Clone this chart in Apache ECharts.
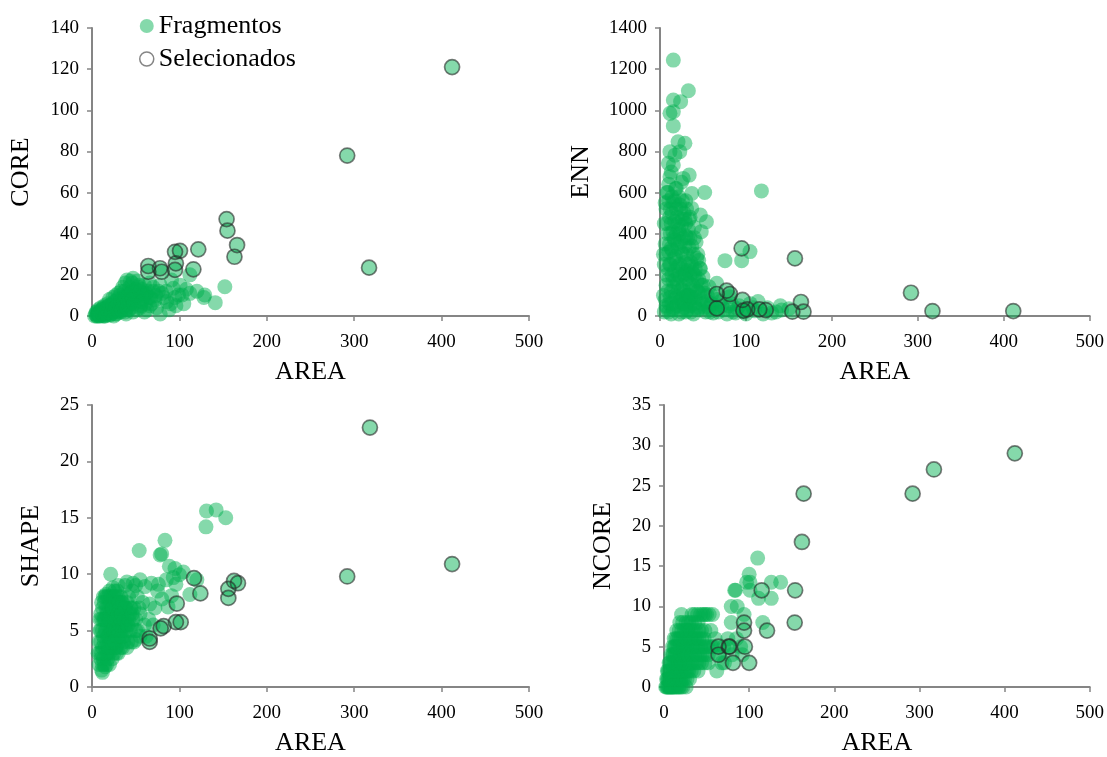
<!DOCTYPE html>
<html>
<head>
<meta charset="utf-8">
<script src="https://cdn.jsdelivr.net/npm/echarts@6/dist/echarts.min.js"></script>
<style>
  html, body { margin: 0; padding: 0; background: #fff; }
  #main { width: 1107px; height: 757px; }
</style>
</head>
<body>
<div id="main"></div>
<script>
// pontos [AREA, valor]
const xTicks = [0, 100, 200, 300, 400, 500]

// CORE x AREA
const coreFrag = [
  [5,0],[6,0.5],[7,1],[8,0],[9,2],[10,1],[11,0.5],[12,3],[13,1.5],[14,0],[15,2.5],[16,4],[17,1],[18,3],[19,5],[20,2],
  [21,0.5],[22,4],[23,6],[24,2],[25,3.5],[26,7],[27,1],[28,5],[29,8],[30,3],[31,6],[32,10],[33,2],[34,7],[35,4],[36,9],
  [37,12],[38,5],[39,1],[40,8],[41,11],[42,3],[43,14],[44,6],[45,9],[46,16],[47,2],[48,12],[50,7],[52,17],[53,10],[55,4],
  [57,13],[58,8],[60,15],[62,11],[63,3],[65,9],[68,6],[12,0],[8,1.5],[6,2],[10,4],[14,5],[18,6],[20,8],[24,9],[27,10],
  [30,11],[33,12],[35,14],[38,16],[44,17],[50,13],[54,15],[56,5],[60,2],[66,5],[70,12],[74,4],[85,12],[88,3],[95,9],
  [105,6],[108,13],[120,12],[152,14.2],[129,10.2],[141,6.5],[112,20],[99,10.2],[103,10.2],[78,1],[85.5,7],[80,11],
  [93,13.5],[91,17.5],[112,11],[100.7,15],[78,15],[66,16],[47,18.3],[40,17.5],[58,11],[72,7.8],[128,9],
  [3,0],[4,1],[5,2],[6,0],[7,3],[8,1],[9,0],[10,2],[11,3],[12,1],[13,4],[14,2],[15,0],[16,1],[17,3],[18,0.5],[19,2],
  [20,5],[21,3],[22,1],[23,2],[24,5],[25,0],[26,2],[27,4],[28,1],[29,3],[30,6],[31,2],[32,5],[33,7],[34,3],[35,9],
  [36,5],[37,7],[38,2],[39,9],[40,4],[41,6],[42,10],[43,8],[44,11],[45,4],[46,12],[47,8],[48,6],[50,10],[51,3],
  [53,14],[55,12],[57,7],[59,10],[61,6],[64,12],[67,9],[70,14],[73,10],[76,12],[82,9],[90,6],[96,5]
]
const coreSel = [
  [64.4,24.3],[64.4,21.5],[77.8,23.2],[79.7,21.5],[95,31.2],[100.7,31.7],[96,25.6],[95,22.4],[116,22.7],[121.6,32.4],
  [154,47.1],[155,41.5],[166,34.5],[163,28.8],[292,78],[317,23.5],[412,121]
]

// ENN x AREA
const ennFrag = [
  [5,20],[6,80],[7,150],[8,40],[9,230],[10,310],[11,60],[12,400],[13,120],[14,500],[15,30],[16,280],[17,560],[18,180],
  [19,90],[20,350],[21,450],[22,10],[23,250],[24,520],[25,130],[26,60],[27,380],[28,200],[29,470],[30,20],[31,300],
  [32,100],[33,420],[34,160],[35,50],[36,260],[37,340],[38,90],[39,10],[40,200],[42,130],[44,30],[45,270],[48,80],
  [50,150],[52,40],[55,100],[58,20],[60,60],[6,350],[7,520],[8,450],[9,600],[10,560],[11,480],[12,250],[13,330],
  [14,200],[15,410],[16,140],[17,370],[18,290],[19,520],[20,160],[21,240],[22,580],[23,400],[24,80],[25,310],[26,470],
  [27,150],[28,40],[29,260],[30,390],[31,180],[32,220],[33,70],[34,330],[35,130],[36,20],[38,210],[41,90],[43,170],
  [46,110],[65,40],[70,70],[75,30],[80,50],[85,20],[90,35],[105,60],[110,25],[130,15],[140,50],[100,10],
  [15.5,1244],[33,1095],[15.5,1050],[24,1042],[11.6,985],[15.5,993],[15.5,924],[21,847],[29,840],[11.6,799],[23,799],
  [17.4,782],[9.7,742],[15.5,734],[11.6,677],[34,685],[27,669],[52,600],[118,608],[37,596],[47,491],[54,458],[48,410],
  [37,523],[75.6,269],[95,269],[104.7,313],[46.5,232],[50,191],[57,142],[66,159],[114,70],[141.5,29],[81,94],
  [10,640],[13,700],[19,620],[25,650],[14,580],[30,560],[40,430],[42,360],[44,300],[35,480],
  [4,100],[4,300],[5,450],[5,250],[6,550],[7,50],[7,300],[8,200],[8,600],[9,120],[9,400],[10,20],[10,180],[11,350],
  [11,250],[12,90],[12,520],[13,10],[13,450],[14,320],[14,60],[15,170],[15,550],[16,40],[16,380],[17,220],[17,460],
  [18,100],[18,620],[19,260],[19,400],[20,50],[20,480],[21,120],[21,330],[22,200],[22,420],[23,70],[23,540],[24,190],
  [24,360],[25,20],[25,440],[26,230],[26,560],[27,90],[27,300],[28,120],[28,500],[29,60],[29,340],[30,210],[30,450],
  [31,100],[31,520],[32,30],[32,380],[33,250],[34,100],[34,470],[35,200],[35,380],[36,90],[37,240],[38,150],[39,300],
  [40,60],[40,380],[41,230],[42,40],[43,280],[44,120],[45,180],[46,40],[47,230],[48,150],[50,60],[52,110],[53,20],
  [55,70],[57,40],[60,100],[62,15],[66,80],[68,20],[72,50],[78,10],[83,60],[88,15],[92,50],[98,20],[108,40],[120,10],
  [125,40],[135,20],[150,35]
]
const ennSel = [
  [95,329],[157,280],[66,107],[77.5,123],[81.4,107],[66,37],[96,78],[97,26],[101.5,32],[115.5,32],[123,29],
  [154,21],[164,68],[167,21],[292,113],[317,24],[411,24]
]

// SHAPE x AREA
const shapeFrag = [
  [8,2],[9,3],[10,4],[11,1.5],[12,5],[13,2.5],[14,6],[15,3.5],[16,7],[17,2],[18,4.5],[19,8],[20,3],[21,5.5],[22,7],
  [23,2.5],[24,6],[25,4],[26,8.5],[27,3.5],[28,5],[29,7.5],[30,3],[31,6.5],[32,4.5],[33,8],[34,5.5],[35,3.5],[36,7],
  [37,4.5],[38,9],[40,6],[41,4],[42,8],[44,5],[45,7],[47,6],[50,5],[52,8],[55,6.5],[58,7.5],[60,5.5],
  [9,5],[10,6.5],[11,7.5],[12,3.5],[13,4.5],[14,2],[15,6],[16,5],[17,8],[18,3],[19,6],[20,4.5],[21,7.5],[22,3.5],
  [23,5],[24,4],[25,6.5],[26,5],[27,7],[28,3.5],[29,6],[30,8],[31,4],[32,6],[33,5],[34,7.5],[35,6],[36,4],[38,5.5],
  [39,7],[43,6.5],[46,8.5],[48,4],[50,9],[10,2.5],[12,2],[15,1.8],[18,2.5],[20,2],[25,3],[28,3],[33,3.5],[40,3.5],
  [45,4],[50,4.2],[55,4.5],[12,1.3],[16,8.2],[24,8.8],[20,8.5],
  [131,15.6],[142,15.7],[153,15.0],[130.4,14.2],[83.5,13.0],[54,12.1],[79.7,11.8],[78,11.7],[88.5,10.7],[21.4,10.0],
  [104.5,10.2],[100,9.95],[93,9.7],[96,9.1],[76,9.1],[112,8.2],[91,8.1],[87,7.1],[80,7.8],[66,7.35],[72,7.0],
  [60.6,8.9],[47,9.2],[65,6],[70,5.5],[62,4.5],[75,8.5],[85,9.5],[68,9.2],[55,9.5],[40,9.3],[30,9],[95,10.5],[120,9.5],
  [7,3],[8,4],[9,6],[10,5],[11,3],[11,6],[12,7],[13,6],[13,8],[14,4],[14,7.5],[15,5],[15,8],[16,3],[16,6],[17,4],
  [17,6.5],[18,5.5],[18,7],[19,3.5],[19,4.5],[20,6],[20,7],[21,4],[21,6.5],[22,5],[22,8],[23,4],[23,7],[24,5],[24,7],
  [25,5],[25,8],[26,4],[26,6],[27,5],[27,8],[28,6],[28,7],[29,4.5],[29,8.5],[30,5],[30,6.5],[31,5],[31,7.5],[32,5.5],
  [32,7],[33,6],[34,4.5],[34,6.5],[35,5],[35,7.5],[36,5.5],[37,6],[38,7],[39,5],[40,7.5],[41,5.5],[42,6],[44,7],
  [45,5.5],[46,6.5],[48,7],[50,6],[52,5],[54,7]
]
const shapeSel = [
  [66,4.3],[66,4.0],[78.6,5.2],[82,5.4],[96,5.75],[101.5,5.75],[97,7.4],[116.7,9.66],[124,8.3],[156,8.7],[156,7.9],
  [162.5,9.4],[167,9.2],[292,9.8],[318,23],[412,10.9]
]

// NCORE x AREA
const ncoreFrag = [
  [2,0],[4,0],[6,0],[8,0],[10,0],[12,0],[15,0],[18,0],[22,0],[26,0],
  [3,1],[5,1],[7,1],[9,1],[11,1],[14,1],[17,1],[20,1],[24,1],[30,1],
  [4,2],[6,2],[9,2],[12,2],[15,2],[18,2],[21,2],[25,2],[29,2],[35,2],
  [6,3],[9,3],[12,3],[15,3],[19,3],[23,3],[27,3],[32,3],[38,3],[44,3],
  [8,4],[11,4],[14,4],[18,4],[22,4],[26,4],[31,4],[36,4],[42,4],[48,4],
  [10,5],[13,5],[17,5],[21,5],[25,5],[30,5],[35,5],[40,5],[46,5],[52,5],
  [14,6],[18,6],[23,6],[28,6],[33,6],[38,6],[44,6],[18,7],[24,7],[28,7],[34,7],[41,7],[48,7],
  [18.6,8],[26,8],[32,8],[36,8],[20.6,9],[39.5,9],[43,9],[45.7,9],[50,9],[57,9],[33,9],
  [60,6],[65,4],[70,5],[75,6],[62,2],[68,3],[55,7],[58,5],[80,4],[85,6],[52,3],
  [110,16],[100,14],[97,13],[101,13],[84,12],[83,12],[101,12],[126,13],[137,13],[126,11],[111,11],[79,10],[86,10],
  [94,9],[79,8],[116,8],[28,7],[90,5],[92,4],[71,3],
  [3,0],[5,0],[7,0],[9,0],[11,0],[14,0],[17,0],[20,0],
  [4,1],[6,1],[8,1],[10,1],[13,1],[16,1],[19,1],[22,1],[27,1],
  [5,2],[8,2],[11,2],[14,2],[17,2],[20,2],[23,2],[27,2],[32,2],[40,2],
  [7,3],[10,3],[14,3],[17,3],[21,3],[25,3],[30,3],[35,3],[41,3],[48,3],
  [10,4],[13,4],[16,4],[20,4],[24,4],[28,4],[33,4],[39,4],[45,4],[52,4],
  [12,5],[15,5],[19,5],[23,5],[27,5],[33,5],[38,5],[43,5],[49,5],[56,5],
  [12,6],[16,6],[20,6],[26,6],[31,6],[36,6],[41,6],[47,6],
  [15,7],[21,7],[26,7],[31,7],[37,7],[44,7],[22,8],[29,8],[40,8],[36,9],[48,9],[53,9]
]
const ncoreSel = [
  [64,5],[64,4],[77,5],[76,5],[95,5],[81,3],[100,3],[94,8],[94,7],[121,7],[114.7,12],[154,12],[153.5,8],[162,18],
  [164,24],[292,24],[317,27],[412,29]
]

const panels = [
  { name: 'CORE', max: 140, interval: 20, frag: coreFrag, sel: coreSel, grid: { left: 92, top: 28, width: 437, height: 288 }, gap: 58 },
  { name: 'ENN', max: 1400, interval: 200, frag: ennFrag, sel: ennSel, grid: { left: 660, top: 28, width: 430, height: 288 }, gap: 66 },
  { name: 'SHAPE', max: 25, interval: 5, frag: shapeFrag, sel: shapeSel, grid: { left: 92, top: 405, width: 437, height: 288 }, gap: 48 },
  { name: 'NCORE', max: 35, interval: 5, frag: ncoreFrag, sel: ncoreSel, grid: { left: 664, top: 405, width: 430, height: 288 }, gap: 48 }
]

const fontFamily = '"Liberation Serif", "Times New Roman", serif'
const axisGray = '#858585'
const fragColor = 'rgba(0,176,80,0.6)'
const selBorder = 'rgba(40,40,40,0.75)'

const chart = echarts.init(document.getElementById('main'))

const axisCommon = {
  min: 0,
  axisLine: { show: true, lineStyle: { color: axisGray, width: 2 } },
  axisTick: { show: true, length: 5, lineStyle: { color: axisGray, width: 1.5 } },
  splitLine: { show: false },
  axisLabel: { color: '#000', fontFamily: fontFamily, fontSize: 19, formatter: v => String(v) },
  nameLocation: 'middle',
  nameTextStyle: { color: '#000', fontFamily: fontFamily, fontSize: 26 }
}

chart.setOption({
  animation: false,
  backgroundColor: '#fff',
  legend: {
    orient: 'vertical',
    left: 134,
    top: 8,
    itemWidth: 14,
    itemHeight: 14,
    itemGap: 7,
    textStyle: { color: '#000', fontFamily: fontFamily, fontSize: 26 },
    data: [
      { name: 'Fragmentos', icon: 'circle', itemStyle: { color: fragColor, borderWidth: 0 } },
      { name: 'Selecionados', icon: 'circle', itemStyle: { color: 'rgba(0,0,0,0)', borderColor: '#666', borderWidth: 1.5 } }
    ]
  },
  grid: panels.map(p => p.grid),
  xAxis: panels.map((p, i) => ({
    ...axisCommon,
    type: 'value',
    gridIndex: i,
    max: 500,
    interval: 100,
    name: 'AREA',
    nameGap: 43,
    axisLabel: { ...axisCommon.axisLabel, margin: 17 }
  })),
  yAxis: panels.map((p, i) => ({
    ...axisCommon,
    type: 'value',
    gridIndex: i,
    max: p.max,
    interval: p.interval,
    name: p.name,
    nameGap: p.gap,
    axisLabel: { ...axisCommon.axisLabel, margin: 13 }
  })),
  series: panels.flatMap((p, i) => [
    {
      name: 'Fragmentos',
      type: 'scatter',
      xAxisIndex: i,
      yAxisIndex: i,
      symbol: 'circle',
      symbolSize: 15,
      itemStyle: { color: fragColor },
      data: p.frag.concat(p.sel)
    },
    {
      name: 'Selecionados',
      type: 'scatter',
      xAxisIndex: i,
      yAxisIndex: i,
      symbol: 'circle',
      symbolSize: 15,
      itemStyle: { color: 'rgba(0,0,0,0)', borderColor: selBorder, borderWidth: 1.7 },
      data: p.sel
    }
  ])
})
</script>
</body>
</html>
